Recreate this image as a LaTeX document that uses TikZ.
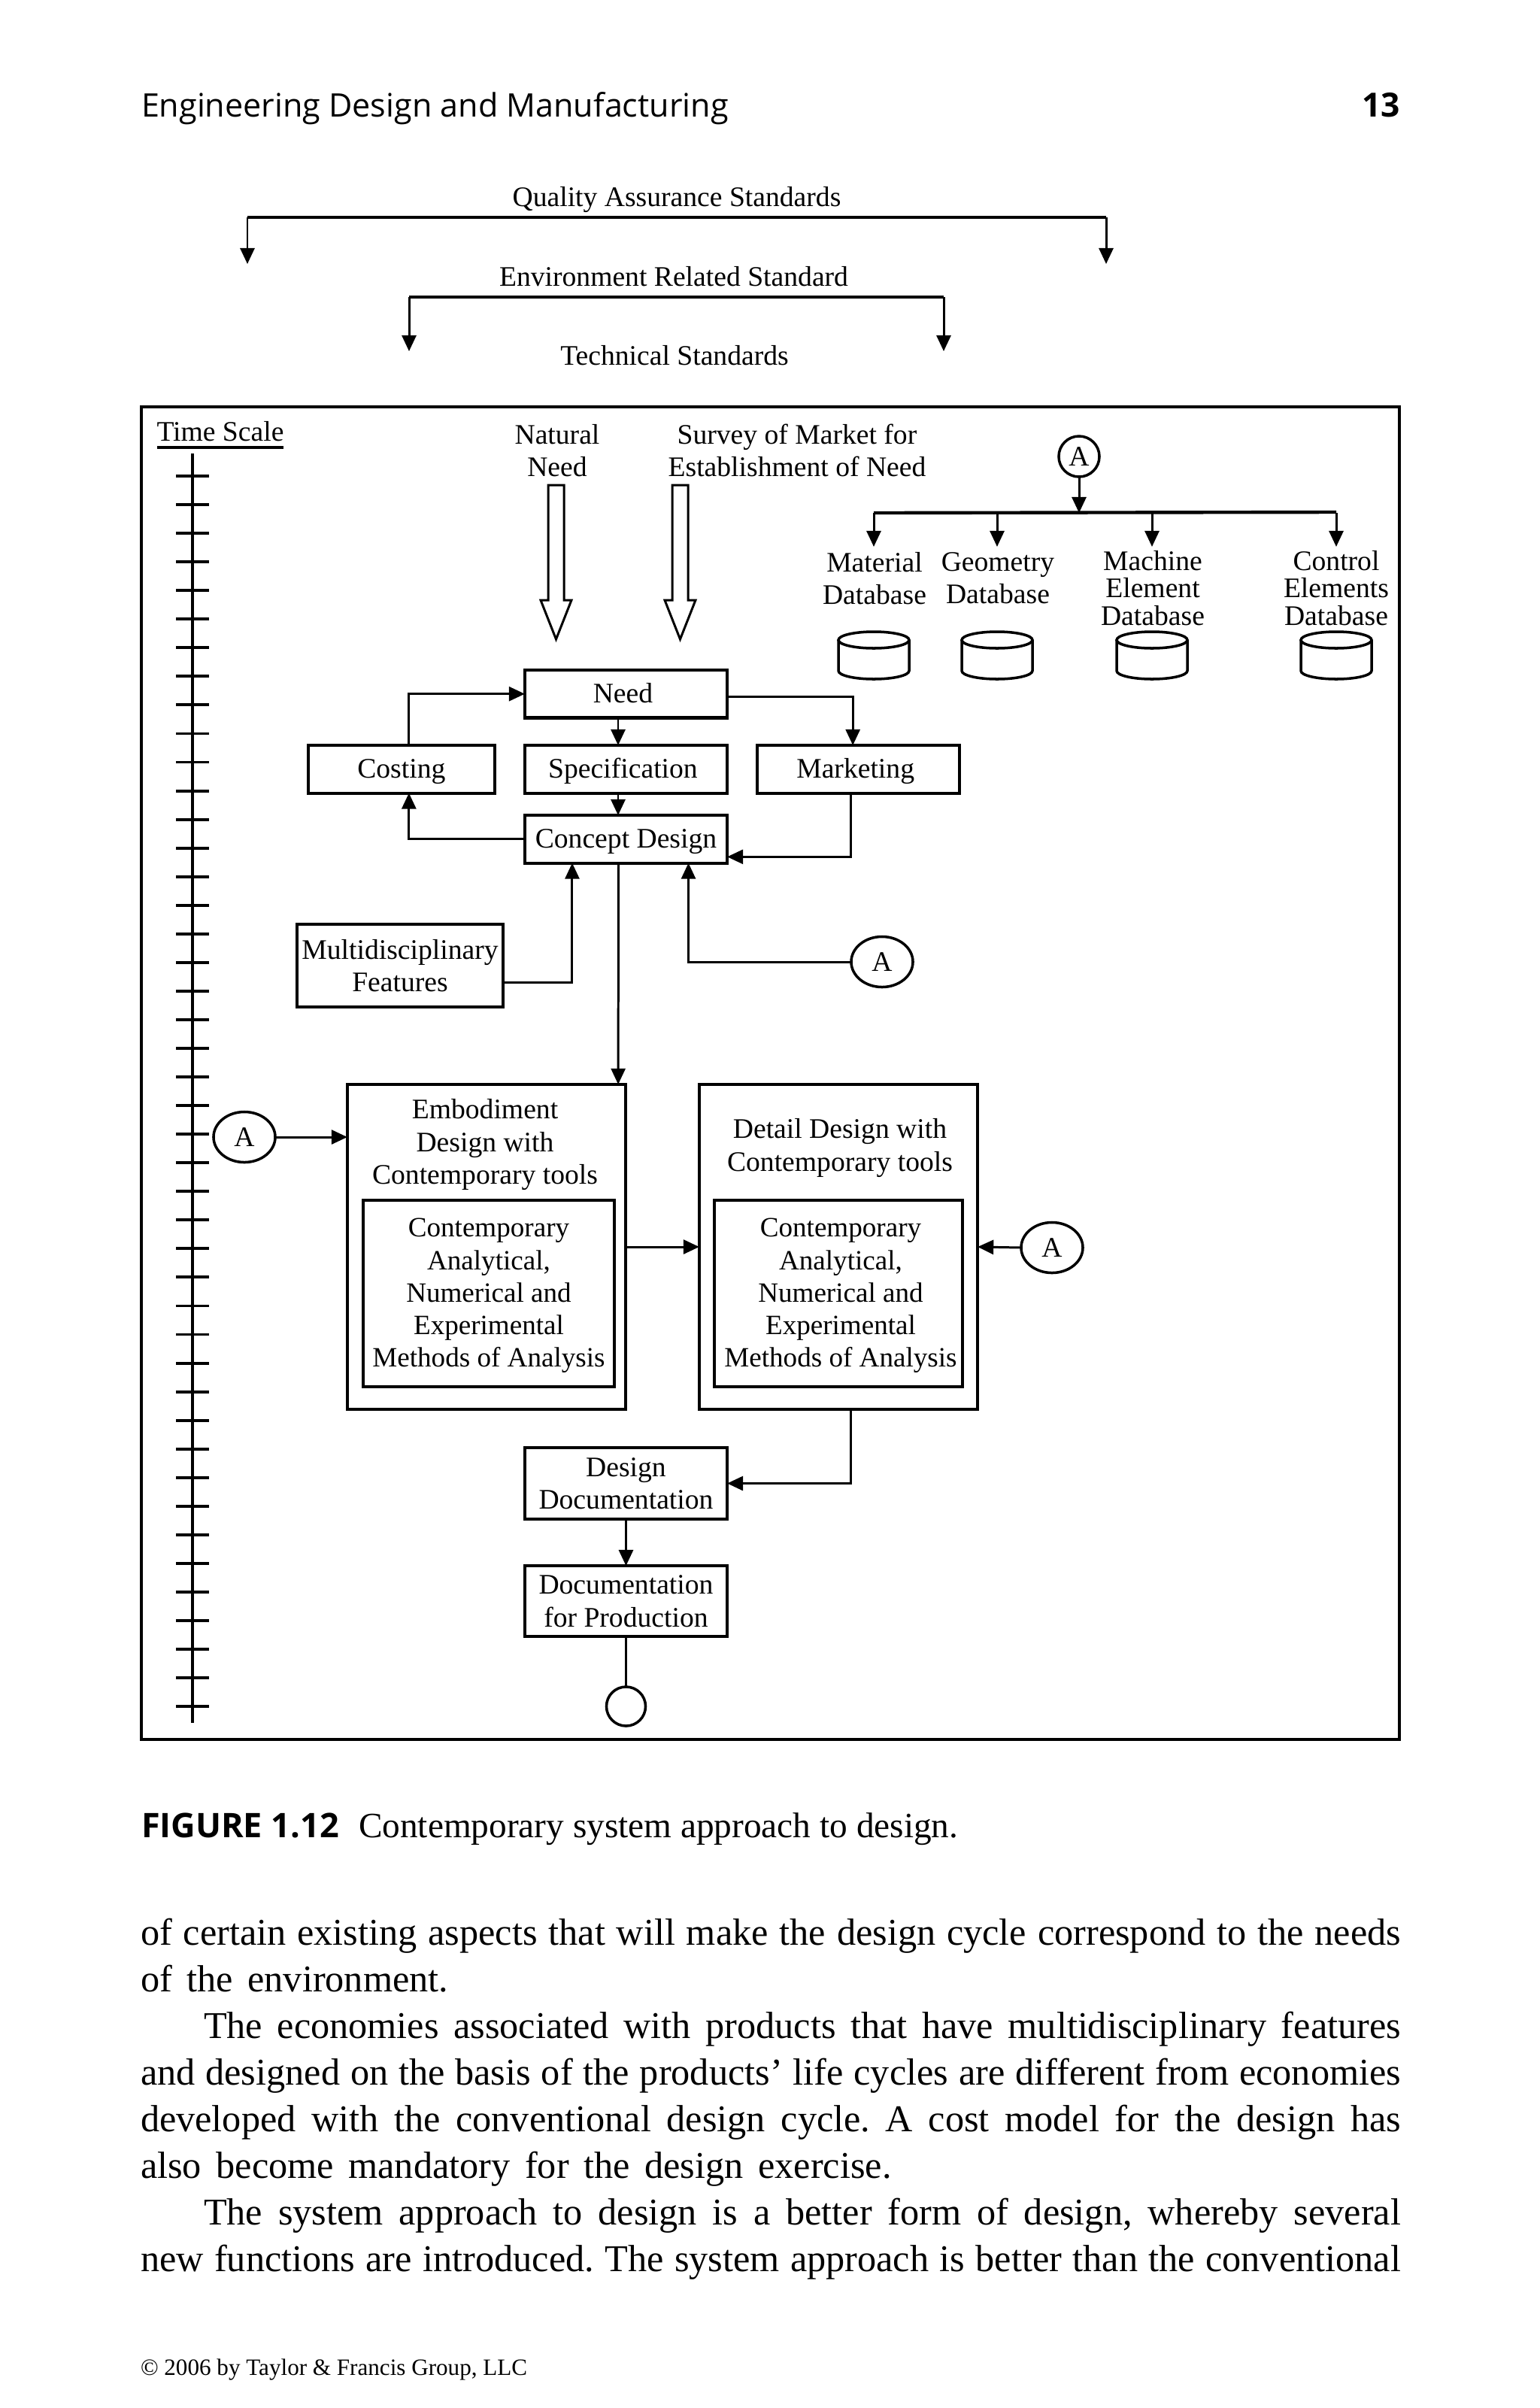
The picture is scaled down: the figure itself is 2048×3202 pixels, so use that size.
\documentclass[tikz,border=0pt]{standalone}
\usepackage{fontspec}
\setmainfont{Liberation Serif}
\newfontfamily\headfont{Open Sans}
\usetikzlibrary{positioning,arrows.meta,shapes.geometric}

\newcommand{\bodyfont}{\fontsize{14.3}{16}\selectfont\frenchspacing\setlength{\spaceskip}{0.21em plus 0.3em minus 0.12em}}

\tikzset{
  arrowline/.style={line width=0.85pt, -{Triangle[length=6pt,width=5.4pt]}},
  thickline/.style={line width=1.25pt},
  every node/.style={font=\fontsize{10.7}{12.3}\selectfont, inner sep=0pt, outer sep=0pt},
  labeltxt/.style={align=center},
  innertxt/.style={align=center, font=\fontsize{10.55}{12.3}\selectfont},
  box/.style={draw, line width=1.15pt, align=center},
  smallbox/.style={box, minimum width=2.69cm, minimum height=0.635cm, text height=8.5pt, text depth=1.6pt},
  letter/.style={draw, ellipse, line width=1pt, minimum width=0.82cm, minimum height=0.67cm},
  bodyline/.style={anchor=base west, font=\bodyfont},
}

\begin{document}
\begin{tikzpicture}[x=0.01cm, y=0.01cm]
  \useasboundingbox (0,0) rectangle (2048,-3202);

  % running head
  \node[anchor=base west, font=\headfont\fontsize{12.25}{14}\selectfont] (head) at (188,-155) {Engineering Design and Manufacturing};
  \node[anchor=base east, font=\headfont\bfseries\fontsize{12.6}{14}\selectfont] (pageno) at (1862,-155) {13};

  % standards
  \node[labeltxt] (quality) at (900,-265) {Quality Assurance Standards};
  \node[labeltxt] (environ) at (896,-368) {Environment Related Standard};
  \node[labeltxt] (technic) at (897,-473) {Technical Standards};
  \coordinate (qualL) at (329,-289);
  \coordinate (qualR) at (1471,-289);
  \coordinate (qualLend) at (329,-351);
  \coordinate (qualRend) at (1471,-351);
  \coordinate (envL) at (544,-395);
  \coordinate (envR) at (1255,-395);
  \coordinate (envLend) at (544,-467);
  \coordinate (envRend) at (1255,-467);
  \draw[thickline] (qualL) -- (qualR);
  \draw[arrowline] (qualL) -- (qualLend);
  \draw[arrowline] (qualR) -- (qualRend);
  \draw[thickline] (envL) -- (envR);
  \draw[arrowline] (envL) -- (envLend);
  \draw[arrowline] (envR) -- (envRend);

  % frame
  \node[draw, line width=1.05pt, anchor=north west, minimum width=16.72cm, minimum height=17.71cm] (frame) at (188,-541) {};

  % time scale
  \node[labeltxt] (timescale) at (293,-574) {Time Scale};
  \draw[thickline] (timescale.west |- 0,-595) -- (timescale.east |- 0,-595);
  \coordinate (axistop) at (256,-603);
  \coordinate (axisbot) at (256,-2291);
  \draw[line width=1pt] (axistop) -- (axisbot);
  \foreach \i in {0,...,43}
    \draw[line width=1.1pt] (234,{-633-38.05*\i}) -- (278,{-633-38.05*\i});

  % inputs
  \node[labeltxt] (natural) at (741,-599) {Natural\\Need};
  \node[labeltxt] (survey) at (1060,-599) {Survey of Market for\\Establishment of Need};
  \foreach \x in {739.5,904.5}
    \draw[line width=0.85pt] (\x-10.5,-645) -- (\x+10.5,-645) -- (\x+10.5,-798) -- (\x+20.5,-798)
      -- (\x,-850) -- (\x-20.5,-798) -- (\x-10.5,-798) -- cycle;

  % databases
  \node[draw, circle, line width=1pt, minimum size=0.54cm] (atop) at (1435,-607) {A};
  \coordinate (busL) at (1162,-682);
  \coordinate (busR) at (1777,-681);
  \draw[arrowline] (atop.south) -- (atop.south |- busL);
  \draw[thickline] (busL) -- (busR);
  \node[labeltxt] (matlabel) at (1163,-769) {Material\\Database};
  \node[labeltxt] (geolabel) at (1327,-769) {Geometry\\Database};
  \node[labeltxt, font=\fontsize{10.7}{10.4}\selectfont] (maclabel) at (1533,-782) {Machine\\Element\\Database};
  \node[labeltxt, font=\fontsize{10.7}{10.4}\selectfont] (conlabel) at (1777,-782) {Control\\Elements\\Database};
  \foreach \x in {1162,1326,1532,1777} {
    \draw[arrowline] (\x,-682) -- (\x,-727);
    \draw[line width=1pt] (\x-47,-851) -- (\x-47,-892) arc[start angle=180, end angle=360, x radius=47, y radius=11] -- (\x+47,-851);
    \draw[line width=1pt] (\x,-851) ellipse[x radius=47, y radius=11];
  }

  % design cycle
  \node[smallbox] (need) at (832.5,-922.7) {Need\hspace*{0.08cm}};
  \node[smallbox, below=0.365cm of need] (spec) {Specification\hspace*{0.08cm}};
  \node[smallbox, below=0.295cm of spec] (concept) {Concept Design};
  \node[smallbox, minimum width=2.48cm, left=0.4cm of spec] (costing) {Costing};
  \node[smallbox, right=0.4cm of spec] (marketing) {Marketing\hspace*{0.08cm}};
  \node[box, minimum width=2.73cm, minimum height=1.1cm] (multi) at (532,-1284) {Multidisciplinary\\Features};
  \node[letter] (aright) at (1173,-1279) {A};

  \node[box, minimum width=3.7cm, minimum height=4.32cm] (embody) at (647,-1658) {};
  \node[box, minimum width=3.7cm, minimum height=4.32cm] (detail) at (1115,-1658) {};
  \node[labeltxt] (embodytxt) at (645,-1522) {Embodiment\\Design with\\Contemporary tools};
  \node[labeltxt] (detailtxt) at (1117,-1526.5) {Detail Design with\\Contemporary tools};
  \node[box, minimum width=3.34cm, minimum height=2.47cm] (embodyin) at (650,-1720) {};
  \node[box, minimum width=3.3cm, minimum height=2.47cm] (detailin) at (1115,-1720) {};
  \node[innertxt] (embodyintxt) at (650,-1723) {Contemporary\\Analytical,\\Numerical and\\Experimental\\Methods of Analysis};
  \node[innertxt] (detailintxt) at (1118,-1723) {Contemporary\\Analytical,\\Numerical and\\Experimental\\Methods of Analysis};
  \node[letter] (aleft) at (325,-1512) {A};
  \node[letter] (alow) at (1399,-1659) {A};

  \node[box, minimum width=2.69cm, minimum height=0.95cm] (designdoc) at (832.5,-1972.5) {Design\\Documentation};
  \node[box, minimum width=2.69cm, minimum height=0.94cm, below=0.62cm of designdoc] (docprod) {Documentation\\for Production};
  \node[draw, circle, line width=1pt, minimum size=0.52cm] (endmark) at (832.5,-2269) {};

  % connectors
  \draw[arrowline] ([xshift=0.1cm]costing.north) |- (need.west);
  \draw[arrowline] ([yshift=-0.04cm]need.east) -| ([xshift=-0.075cm]marketing.north);
  \draw[arrowline] ([xshift=-0.105cm]need.south) -- ([xshift=-0.105cm]spec.north);
  \draw[arrowline] ([xshift=-0.105cm]spec.south) -- ([xshift=-0.105cm]concept.north);
  \draw[arrowline] (concept.west) -| ([xshift=0.1cm]costing.south);
  \draw[arrowline] ([xshift=-0.1cm]marketing.south) |- ([yshift=-0.235cm]concept.east);
  \draw[arrowline] ([yshift=-0.22cm]multi.east) -| ([xshift=-0.715cm]concept.south);
  \draw[arrowline] (aright.west) -| ([xshift=0.83cm]concept.south);
  \draw[arrowline] ([xshift=-0.1cm]concept.south) -- ([xshift=-0.1cm]embody.north east);
  \draw[arrowline] (aleft.east) -- (aleft.east -| embody.west);
  \draw[arrowline] (embody.east) -- (detail.west);
  \draw[arrowline] (alow.west) -- (detail.east);
  \draw[arrowline] ([xshift=0.16cm]detail.south) |- (designdoc.east);
  \draw[arrowline] (designdoc.south) -- (docprod.north);
  \draw[line width=1pt] (docprod.south) -- (endmark.north);

  % caption
  \node[anchor=base west, font=\headfont\bfseries\fontsize{12.8}{14}\selectfont] (figno) at (188,-2443) {FIGURE 1.12};
  \node[anchor=base west, font=\fontsize{13.45}{16}\selectfont] (figcap) at (477,-2443) {Contemporary system approach to design.};

  % text below the figure
  \node[bodyline] (lineA) at (187,-2586) {\makebox[16.75cm][s]{of certain existing aspects that will make the design cycle correspond to the needs}};
  \node[bodyline] (lineB) at (187,-2648) {\makebox[4.09cm][s]{of the environment.}};
  \node[bodyline] (lineC) at (271,-2710) {\makebox[15.91cm][s]{The economies associated with products that have multidisciplinary features}};
  \node[bodyline] (lineD) at (187,-2772) {\makebox[16.75cm][s]{and designed on the basis of the products’ life cycles are different from economies}};
  \node[bodyline] (lineE) at (187,-2834) {\makebox[16.75cm][s]{developed with the conventional design cycle. A cost model for the design has}};
  \node[bodyline] (lineF) at (187,-2896) {\makebox[9.98cm][s]{also become mandatory for the design exercise.}};
  \node[bodyline] (lineG) at (271,-2958) {\makebox[15.91cm][s]{The system approach to design is a better form of design, whereby several}};
  \node[bodyline] (lineH) at (187,-3020) {\makebox[16.75cm][s]{new functions are introduced. The system approach is better than the conventional}};
  \node[anchor=base west, font=\fontsize{8.85}{11}\selectfont] (copyright) at (187,-3158) {© 2006 by Taylor \& Francis Group, LLC};
\end{tikzpicture}
\end{document}
